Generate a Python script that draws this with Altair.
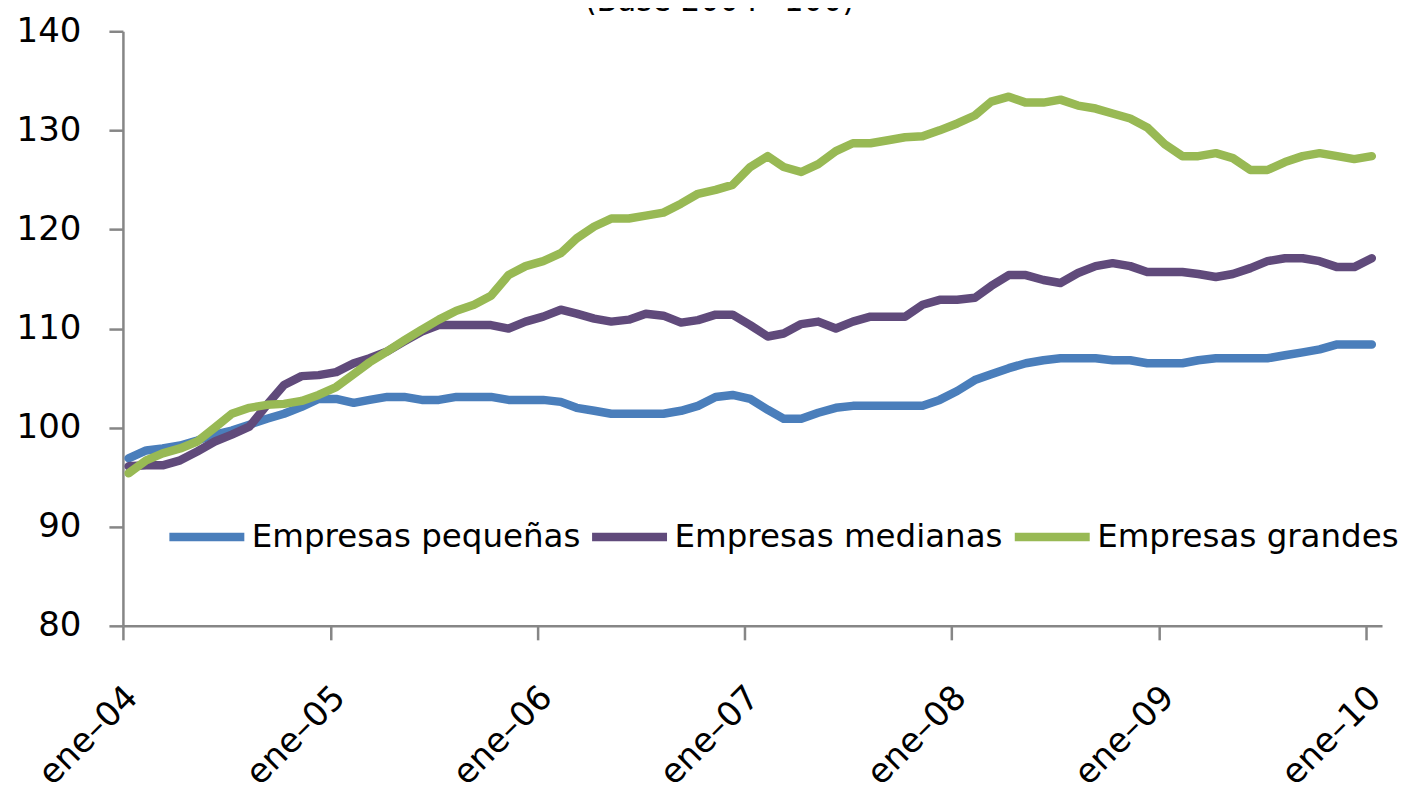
import altair as alt
import pandas as pd

# ---- data ----
meses_abrev = ["ene", "feb", "mar", "abr", "may", "jun", "jul", "ago", "sep", "oct", "nov", "dic"]
fechas = [f"{y}-{m:02d}-11" for y in range(2004, 2010) for m in range(1, 13)] + ["2010-01-11"]

series = ["Empresas pequeñas", "Empresas medianas", "Empresas grandes"]
colores = ["#4A7EBB", "#604A7B", "#98B954"]

pequenas = [
    96.9, 97.7, 97.9, 98.2, 98.7, 99.3, 99.7, 100.3, 100.9, 101.4, 102.1, 102.9,
    102.9, 102.5, 102.8, 103.1, 103.1, 102.8, 102.8, 103.1, 103.1, 103.1, 102.8, 102.8,
    102.8, 102.6, 102.0, 101.7, 101.4, 101.4, 101.4, 101.4, 101.7, 102.2, 103.1, 103.3,
    102.9, 101.8, 100.9, 100.9, 101.5, 102.0, 102.2, 102.2, 102.2, 102.2, 102.2, 102.8,
    103.7, 104.8, 105.4, 106.0, 106.5, 106.8, 107.0, 107.0, 107.0, 106.8, 106.8, 106.5,
    106.5, 106.5, 106.8, 107.0, 107.0, 107.0, 107.0, 107.3, 107.6, 107.9, 108.4, 108.4,
    108.4,
]
medianas = [
    96.1, 96.2, 96.2, 96.7, 97.6, 98.6, 99.3, 100.1, 102.3, 104.3, 105.2, 105.3,
    105.6, 106.5, 107.0, 107.7, 108.7, 109.7, 110.35, 110.35, 110.35, 110.35, 110.0, 110.7,
    111.2, 111.9, 111.5, 111.0, 110.7, 110.9, 111.5, 111.3, 110.6, 110.85, 111.4, 111.4,
    110.35, 109.2, 109.5, 110.45, 110.7, 110.0, 110.7, 111.2, 111.2, 111.2, 112.4, 112.9,
    112.9, 113.1, 114.3, 115.4, 115.4, 114.9, 114.6, 115.6, 116.3, 116.6, 116.3, 115.7,
    115.7, 115.7, 115.5, 115.2, 115.5, 116.1, 116.8, 117.1, 117.1, 116.8, 116.2, 116.2,
    117.1,
]
grandes = [
    95.4, 96.7, 97.4, 97.9, 98.6, 100.0, 101.4, 102.0, 102.3, 102.4, 102.7, 103.3,
    104.1, 105.4, 106.6, 107.7, 108.8, 109.9, 110.9, 111.8, 112.4, 113.3, 115.4, 116.3,
    116.8, 117.6, 119.1, 120.3, 121.1, 121.1, 121.4, 121.7, 122.6, 123.6, 124.0, 124.5,
    126.3, 127.4, 126.3, 125.8, 126.6, 127.9, 128.7, 128.7, 129.0, 129.3, 129.4, 130.0,
    130.7, 131.5, 132.9, 133.4, 132.8, 132.8, 133.1, 132.5, 132.2, 131.7, 131.2, 130.3,
    128.6, 127.4, 127.4, 127.7, 127.2, 126.0, 126.0, 126.8, 127.4, 127.7, 127.4, 127.1,
    127.4,
]
y_ticks = [80, 90, 100, 110, 120, 130, 140]
anios_ticks = list(range(2004, 2011))
titulo = "(Base 2004=100)"

rows = []
for nombre, valores in zip(series, [pequenas, medianas, grandes]):
    for f, v in zip(fechas, valores):
        rows.append({"fecha": f, "serie": nombre, "valor": v})
df = pd.DataFrame(rows)

x_enc = alt.X(
    "fecha:T",
    title=None,
    scale=alt.Scale(
        type="utc",
        domain=[alt.DateTime(year=2004, month=1, date=1, utc=True),
                alt.DateTime(year=2010, month=1, date=29, utc=True)],
    ),
    axis=alt.Axis(
        values=[alt.DateTime(year=y, month=1, date=1, utc=True) for y in anios_ticks],
        labelExpr="'ene–' + utcFormat(datum.value, '%y')",
        labelAngle=-45,
        labelAlign="right",
        labelBaseline="top",
        labelPadding=40,
        labelOffset=-3,
        tickSize=14,
        labelFlush=False,
        labelOverlap=False,
    ),
)
y_enc = alt.Y(
    "valor:Q",
    title=None,
    scale=alt.Scale(domain=[80, 140], nice=False, zero=False),
    axis=alt.Axis(values=y_ticks, labelPadding=28, tickSize=14),
)

lines = alt.Chart(df).mark_line(strokeWidth=8.5, strokeCap="round", strokeJoin="round").encode(
    x=x_enc,
    y=y_enc,
    color=alt.Color(
        "serie:N",
        sort=series,
        scale=alt.Scale(domain=series, range=colores),
        legend=alt.Legend(
            orient="none",
            legendX=42,
            legendY=464,
            direction="horizontal",
            title=None,
            symbolType="stroke",
            symbolSize=5625,
            symbolStrokeWidth=8.5,
            labelFont="DejaVu Sans",
            labelFontSize=32.5,
            labelColor="black",
            labelLimit=0,
            labelOffset=3,
            columnPadding=-6,
            padding=0,
        ),
    ),
)

title_text = alt.Chart(pd.DataFrame({"t": [titulo]})).mark_text(
    font="Liberation Sans Narrow, DejaVu Sans Condensed, sans-serif",
    fontSize=34,
    align="center",
    baseline="alphabetic",
    color="black",
).encode(text="t:N", x=alt.value(597), y=alt.value(-20))

chart = alt.layer(lines, title_text).properties(
    width=1260,
    height=595,
    padding={"left": 115, "top": 23, "right": 20, "bottom": 175},
    autosize=alt.AutoSizeParams(type="none"),
).configure_view(stroke=None).configure_axis(
    labelFont="DejaVu Sans",
    labelFontSize=34,
    labelColor="black",
    domainColor="#868686",
    tickColor="#868686",
    domainWidth=2.5,
    tickWidth=2.5,
    grid=False,
)

chart.save("out.html", embed_options={"renderer": "svg", "actions": False})
